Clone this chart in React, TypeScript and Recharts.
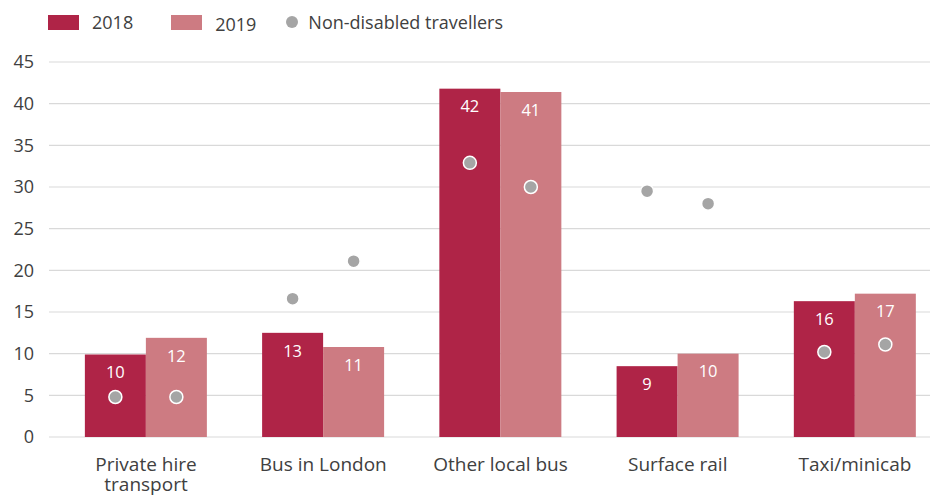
import React from 'react';
import { ComposedChart, Bar, XAxis, YAxis, CartesianGrid, Legend, LabelList } from 'recharts';

const categories = ['Private hire transport', 'Bus in London', 'Other local bus', 'Surface rail', 'Taxi/minicab'];
const categoryLines: Record<string, string[]> = {
  'Private hire transport': ['Private hire', 'transport'],
};
const values2018 = [9.9, 12.5, 41.8, 8.5, 16.3];
const values2019 = [11.9, 10.8, 41.4, 10.0, 17.2];
const nonDisabled2018 = [4.8, 16.6, 32.9, 29.5, 10.2];
const nonDisabled2019 = [4.8, 21.1, 30.0, 28.0, 11.1];
const yTicks = [0, 5, 10, 15, 20, 25, 30, 35, 40, 45];
const seriesNames = ['2018', '2019', 'Non-disabled travellers'];

const C2018 = '#af2447';
const C2019 = '#cd7b82';
const DOT = '#a5a5a5';
const TEXT = '#404040';
const FONT = '"Open Sans", sans-serif';

const data = categories.map((c, i) => ({
  category: c,
  v2018: values2018[i],
  v2019: values2019[i],
  d2018: nonDisabled2018[i],
  d2019: nonDisabled2019[i],
}));

const makeShape = (valueKey: string, dotKey: string) => (props: any) => {
  const { x, y, width, height, fill, payload } = props;
  const v = payload[valueKey];
  const d = payload[dotKey];
  const base = y + height;
  const cy = base - (d / v) * height;
  return (
    <g>
      <rect x={x} y={y} width={width} height={height} fill={fill} />
      <circle cx={x + width / 2} cy={cy} r={6.5} fill={DOT} stroke="#fff" strokeWidth={1.5} />
    </g>
  );
};

const XTick = (props: any) => {
  const { x, y, payload } = props;
  const lines = categoryLines[payload.value] || [payload.value];
  return (
    <text x={x} y={y} textAnchor="middle" fill={TEXT} fontSize={19} fontFamily={FONT}>
      {lines.map((l, i) => (
        <tspan key={i} x={x} dy={i === 0 ? 26 : 19.5}>{l}</tspan>
      ))}
    </text>
  );
};

const LegendContent = () => (
  <div style={{ display: 'flex', alignItems: 'center', fontFamily: FONT, fontSize: 18, color: TEXT, paddingLeft: 48, paddingTop: 12, lineHeight: '20px' }}>
    <span style={{ display: 'inline-block', width: 31, height: 15, background: C2018, marginRight: 13 }} />
    <span style={{ marginRight: 38 }}>{seriesNames[0]}</span>
    <span style={{ display: 'inline-block', width: 31, height: 15, background: C2019, marginRight: 13 }} />
    <span style={{ marginRight: 30, position: 'relative', top: 2 }}>{seriesNames[1]}</span>
    <span style={{ display: 'inline-block', width: 12, height: 12, borderRadius: 6, background: DOT, marginRight: 10 }} />
    <span>{seriesNames[2]}</span>
  </div>
);

export default function App() {
  return (
    <div style={{ position: 'absolute', left: 0, top: 0, width: 930, height: 495, overflow: 'hidden', background: '#fff', fontFamily: FONT }}>
      <ComposedChart
        width={952}
        height={495}
        data={data}
        margin={{ top: 62, right: 0, bottom: 0, left: 0 }}
        barCategoryGap="15.5%"
        barGap={0}
      >
        <CartesianGrid vertical={false} stroke="#d9d9d9" strokeWidth={1.2} />
        <XAxis
          dataKey="category"
          height={58}
          axisLine={false}
          tickLine={false}
          padding={{ left: 8.4, right: 8.4 }}
          tick={<XTick />}
          interval={0}
        />
        <YAxis
          width={49}
          domain={[0, 45]}
          ticks={yTicks}
          axisLine={false}
          tickLine={false}
          tickMargin={9}
          tick={{ fill: TEXT, fontSize: 18, fontFamily: FONT }}
        />
        <Legend
          layout="horizontal"
          verticalAlign="middle"
          align="center"
          wrapperStyle={{ top: 0, left: 0, width: 930 }}
          content={<LegendContent />}
        />
        <Bar dataKey="v2018" name={seriesNames[0]} fill={C2018} isAnimationActive={false} shape={makeShape('v2018', 'd2018')}>
          <LabelList dataKey="v2018" position="insideTop" offset={12} fill="#fff" fontSize={16.5} fontFamily={FONT} formatter={(v: any) => Math.round(v)} />
        </Bar>
        <Bar dataKey="v2019" name={seriesNames[1]} fill={C2019} isAnimationActive={false} shape={makeShape('v2019', 'd2019')}>
          <LabelList dataKey="v2019" position="insideTop" offset={12} fill="#fff" fontSize={16.5} fontFamily={FONT} formatter={(v: any) => Math.round(v)} />
        </Bar>
      </ComposedChart>
    </div>
  );
}
